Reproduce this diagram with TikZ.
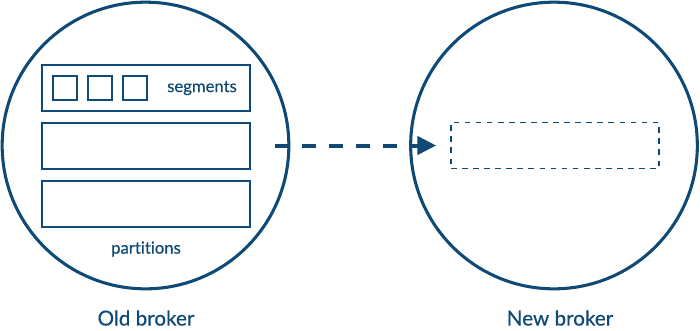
\documentclass[tikz,border=0pt]{standalone}
\usepackage{fontspec}
\setmainfont{Lato}[Ligatures=NoCommon, FakeBold=0.4]
\usetikzlibrary{arrows.meta}
\definecolor{brokerblue}{RGB}{14,74,117}

\begin{document}
\begin{tikzpicture}[
    x=0.75pt, y=-0.75pt,
    % Estilos
    broker/.style={circle, draw=brokerblue, line width=2.3pt, minimum size=215pt, inner sep=0pt},
    part box/.style={rectangle, draw=brokerblue, line width=1.5pt, minimum width=156pt, minimum height=34.5pt, inner sep=0pt},
    seg box/.style={rectangle, draw=brokerblue, line width=1.5pt, minimum size=18pt, inner sep=0pt},
    new part/.style={part box, line width=1.3pt, dash pattern=on 4.3pt off 4pt},
    move path/.style={-{Triangle[length=14pt, width=13.5pt]}, line width=3pt, brokerblue, dash pattern=on 10.5pt off 9.8pt},
    small label/.style={text=brokerblue, font=\fontsize{12.5}{14}\selectfont},
    broker label/.style={text=brokerblue, font=\fontsize{15.5}{18}\selectfont}
]
    \useasboundingbox (0,0) rectangle (700,330);

    % =========================================================================
    % 1. Brokers
    % =========================================================================
    \node[broker] (oldb) at (145.5,145.5) {};
    \node[broker] (newb) at (554,145.5) {};

    \node[broker label] (oldlbl) at (146,318) {Old broker};
    \node[broker label] (newlbl) at (560,318) {New broker};

    % =========================================================================
    % 2. Particiones del broker antiguo
    % =========================================================================
    \node[part box] (part1) at (146,87.5) {};
    \node[part box] (part2) at (146,145.5) {};
    \node[part box] (part3) at (146,203.5) {};

    % Segmentos dentro de la primera partición
    \foreach \i/\x in {1/65, 2/99.5, 3/134.5} {
        \node[seg box] (seg\i) at (\x,88) {};
    }
    \node[small label] (seglbl) at (202,88) {segments};
    \node[small label] (partlbl) at (146,249) {partitions};

    % =========================================================================
    % 3. Partición en movimiento hacia el broker nuevo
    % =========================================================================
    \node[new part] (dest) at (555,145.5) {};
    \coordinate (start) at (275,145.5);
    \draw[move path, shorten >=10.5pt] (start) -- (dest.west);

\end{tikzpicture}
\end{document}
